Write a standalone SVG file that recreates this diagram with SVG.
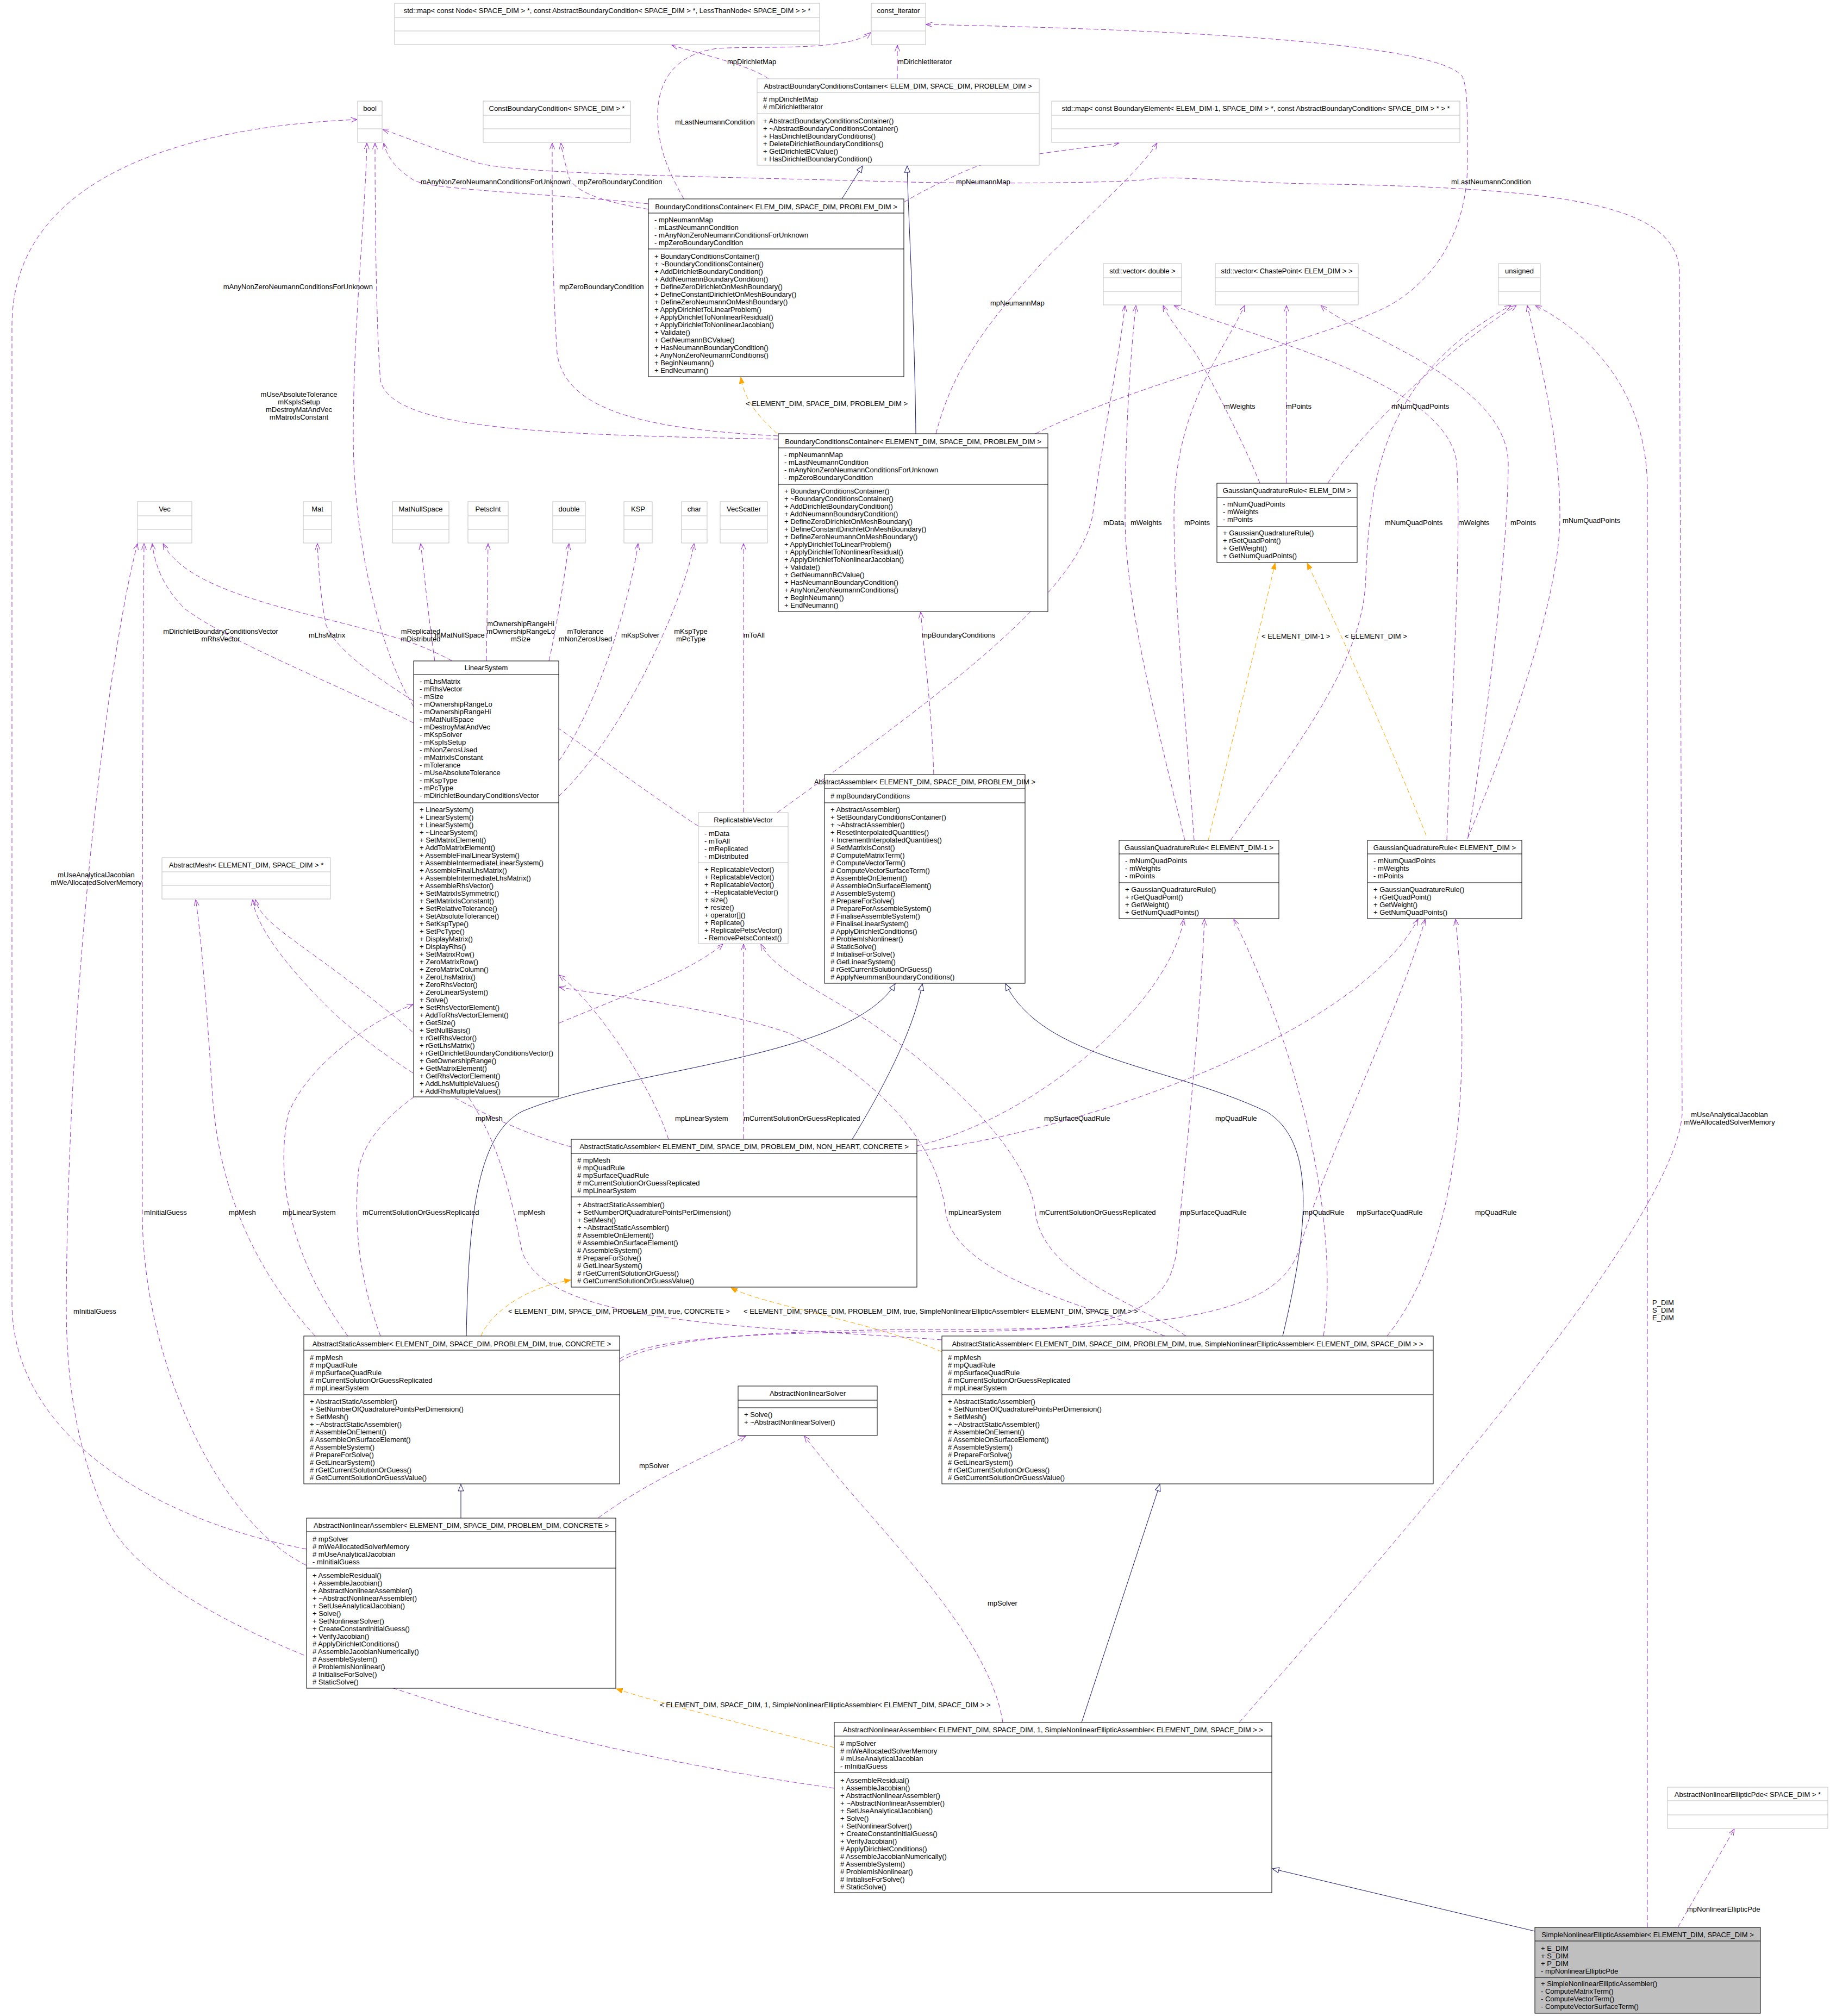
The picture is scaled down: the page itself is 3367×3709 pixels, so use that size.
<svg xmlns="http://www.w3.org/2000/svg" width="3367" height="3709" viewBox="0 0 3367 3709">
<defs>
<style>
.b{fill:#fff;stroke:#000;stroke-width:1}
.g{fill:#fff;stroke:#bfbfbf;stroke-width:1}
.s{fill:#bfbfbf;stroke:#000;stroke-width:1}
.lb{stroke:#000;stroke-width:1;fill:none}
.lg{stroke:#bfbfbf;stroke-width:1;fill:none}
text{font-family:"Liberation Sans",Arial,sans-serif;font-size:13px;fill:#000}
.h{text-anchor:middle}
.e{text-anchor:end}
.u{fill:none;stroke:#9a32cd;stroke-width:1;stroke-dasharray:9,5;marker-end:url(#mu)}
.i{fill:none;stroke:#191970;stroke-width:1;marker-end:url(#mi)}
.o{fill:none;stroke:#ffa500;stroke-width:1;stroke-dasharray:9,5;marker-end:url(#mo)}
</style>
<marker id="mu" viewBox="0 0 12 10" refX="11.5" refY="5" markerWidth="12" markerHeight="10" orient="auto" markerUnits="userSpaceOnUse"><path d="M0,0.5 L11.5,5 L0,9.5" fill="none" stroke="#9a32cd" stroke-width="1"/></marker>
<marker id="mi" viewBox="0 0 14 12" refX="13" refY="6" markerWidth="14" markerHeight="12" orient="auto" markerUnits="userSpaceOnUse"><path d="M1,1 L13,6 L1,11 Z" fill="#fff" stroke="#191970" stroke-width="1"/></marker>
<marker id="mo" viewBox="0 0 12 10" refX="11.5" refY="5" markerWidth="12" markerHeight="10" orient="auto" markerUnits="userSpaceOnUse"><path d="M0,0.5 L11.5,5 L0,9.5 Z" fill="#ffa500" stroke="#ffa500" stroke-width="1"/></marker>
</defs>
<rect width="3367" height="3709" fill="#fff"/>

<g id="connectors">
<path class="i" d="M1549,366 L1587,305"/>
<path class="i" d="M1685,798 C1683,600 1672,420 1669,305"/>
<path class="i" d="M848,2793 L848,2731"/>
<path class="i" d="M858,2458 C862,2250 875,2090 960,2045 C1150,1965 1560,1950 1647,1810"/>
<path class="i" d="M1568,2096 C1620,2010 1680,1900 1697,1810"/>
<path class="i" d="M2360,2458 C2410,2250 2420,2100 2330,2045 C2150,1960 1920,1950 1850,1810"/>
<path class="i" d="M1990,3169 L2134,2731"/>
<path class="i" d="M2824,3553 L2341,3438"/>

<path class="o" d="M1430,798 C1400,770 1370,740 1363,694"/>
<path class="o" d="M2223,1546 C2270,1350 2320,1150 2346,1036"/>
<path class="o" d="M2624,1537 C2550,1350 2460,1150 2405,1036"/>
<path class="o" d="M885,2458 C900,2420 960,2370 1050,2355"/>
<path class="o" d="M1733,2487 C1600,2430 1400,2400 1345,2369"/>
<path class="o" d="M1535,3215 C1400,3180 1200,3130 1134,3107"/>

<path class="u" d="M1414,145 C1380,120 1290,100 1236,83"/>
<path class="u" d="M1651,145 L1651,83"/>
<path class="u" d="M1258,366 C1245,340 1212,290 1210,220 C1208,150 1240,100 1320,89 C1400,84 1560,95 1602,60"/>
<path class="u" d="M1905,798 C2100,700 2450,620 2560,560 C2660,500 2700,400 2700,300 C2700,200 2700,160 2690,140 C2640,80 2200,55 1704,45"/>
<path class="u" d="M1663,372 C1700,350 1760,320 1800,305 C1900,280 2020,270 2059,263"/>
<path class="u" d="M1722,798 C1760,650 1850,560 1920,480 C2020,380 2100,310 2129,263"/>
<path class="u" d="M1193,375 C1000,355 800,350 762,332 C730,312 712,290 706,263"/>
<path class="u" d="M1193,385 C1100,370 1050,350 1045,320 C1040,300 1034,280 1032,263"/>
<path class="u" d="M1432,808 C1000,800 720,790 700,700 C692,600 690,400 690,263"/>
<path class="u" d="M1432,802 C1200,790 1040,760 1025,650 C1015,500 1016,350 1016,263"/>
<path class="u" d="M2280,3169 C2600,2800 3080,2250 3095,2050 L3090,500 C3085,380 2900,345 2400,338 C2250,334 2150,322 2110,330 C2080,336 1800,340 1600,333 C1300,325 950,320 880,300 C800,275 740,250 704,238"/>
<path class="u" d="M761,1300 C700,1200 650,1000 650,800 C650,600 672,400 675,263"/>
<path class="u" d="M564,2850 C300,2800 25,2650 22,2400 L22,600 C22,300 400,230 657,220"/>
<path class="u" d="M1718,1425 C1714,1300 1700,1200 1694,1126"/>
<path class="u" d="M761,1330 C600,1250 420,1180 340,1120 C300,1080 285,1040 280,1000"/>
<path class="u" d="M1285,1520 C1100,1400 900,1230 750,1180 C600,1130 350,1100 300,1000"/>
<path class="u" d="M761,1290 C700,1250 620,1200 600,1150 C590,1100 586,1050 584,1000"/>
<path class="u" d="M800,1216 C790,1150 780,1050 774,1000"/>
<path class="u" d="M895,1216 L898,1000"/>
<path class="u" d="M1010,1216 C1025,1150 1040,1050 1047,1000"/>
<path class="u" d="M1028,1400 C1100,1300 1160,1100 1174,1000"/>
<path class="u" d="M1028,1465 C1150,1350 1260,1100 1277,1000"/>
<path class="u" d="M1368,1495 L1368,1000"/>
<path class="u" d="M1430,1495 C1700,1300 1980,1100 2010,950 C2030,800 2060,650 2070,562"/>
<path class="u" d="M2180,1546 C2120,1300 2070,1100 2070,950 C2070,800 2080,650 2090,562"/>
<path class="u" d="M2197,1546 C2180,1300 2160,1100 2160,950 C2160,750 2250,650 2290,562"/>
<path class="u" d="M2264,1546 C2380,1380 2500,1230 2512,1080 C2520,900 2530,700 2780,562"/>
<path class="u" d="M2318,889 C2290,820 2240,720 2200,650 C2170,610 2150,585 2140,562"/>
<path class="u" d="M2367,889 L2367,562"/>
<path class="u" d="M2443,889 C2500,800 2650,650 2790,562"/>
<path class="u" d="M2662,1546 C2670,1300 2690,1000 2680,850 C2660,700 2300,620 2160,562"/>
<path class="u" d="M2701,1540 C2740,1300 2775,1000 2775,850 C2770,700 2500,620 2430,562"/>
<path class="u" d="M2700,1543 C2780,1350 2870,1100 2870,950 C2870,800 2830,650 2810,562"/>
<path class="u" d="M3031,3546 L3031,900 C3031,700 2900,600 2825,562"/>
<path class="u" d="M3087,3546 L3191,3365"/>
<path class="u" d="M1051,2110 C900,2070 700,1950 600,1850 C520,1770 470,1700 465,1655"/>
<path class="u" d="M1230,2096 C1200,2000 1100,1850 1029,1794"/>
<path class="u" d="M1368,2096 L1368,1737"/>
<path class="u" d="M1687,2108 C1900,2060 2150,1850 2178,1691"/>
<path class="u" d="M1687,2118 C2000,2080 2500,1900 2609,1691"/>
<path class="u" d="M580,2458 C480,2350 400,2200 390,2000 C380,1850 370,1720 360,1655"/>
<path class="u" d="M640,2458 C560,2350 500,2200 530,2050 C570,1950 700,1870 760,1848"/>
<path class="u" d="M700,2458 C660,2350 650,2250 660,2150 C700,1950 1200,1850 1330,1737"/>
<path class="u" d="M1140,2500 C1200,2460 1400,2450 1733,2450 C2050,2450 2150,2420 2165,2300 C2185,2100 2210,1850 2216,1691"/>
<path class="u" d="M1140,2505 C1210,2462 1420,2446 1733,2446 C2150,2446 2350,2420 2390,2300 C2450,2100 2580,1850 2622,1691"/>
<path class="u" d="M1733,2465 C1400,2440 1000,2440 960,2300 C930,2150 900,2000 700,1850 C550,1730 480,1700 470,1655"/>
<path class="u" d="M2143,2458 C2000,2400 1760,2350 1740,2231 C1720,2060 1550,1950 1450,1900 C1300,1850 1100,1830 1029,1816"/>
<path class="u" d="M2182,2458 C2100,2400 1920,2350 1905,2231 C1890,2100 1700,1950 1600,1880 C1500,1820 1420,1780 1400,1737"/>
<path class="u" d="M2435,2458 C2460,2300 2420,2000 2270,1691"/>
<path class="u" d="M2552,2458 C2680,2300 2710,2000 2678,1691"/>
<path class="u" d="M564,2880 C400,2800 262,2500 262,2233 C262,1800 262,1300 265,1000"/>
<path class="u" d="M1100,2793 C1200,2720 1320,2670 1372,2642"/>
<path class="u" d="M1845,3169 C1820,3000 1600,2800 1480,2642"/>
<path class="u" d="M1535,3290 C900,3200 300,3000 200,2800 C130,2650 122,2500 122,2400 C125,1800 200,1200 253,1000"/>

<text x="1338" y="118">mpDirichletMap</text>
<text x="1652" y="118">mDirichletIterator</text>
<text x="1242" y="229">mLastNeumannCondition</text>
<text x="774" y="339">mAnyNonZeroNeumannConditionsForUnknown</text>
<text x="1063" y="339">mpZeroBoundaryCondition</text>
<text x="1759" y="339">mpNeumannMap</text>
<text x="2670" y="339">mLastNeumannCondition</text>
<text class="e" x="686" y="532">mAnyNonZeroNeumannConditionsForUnknown</text>
<text x="1029" y="532">mpZeroBoundaryCondition</text>
<text class="h" x="550" y="730">mUseAbsoluteTolerance<tspan x="550" dy="14">mKspIsSetup</tspan><tspan x="550" dy="14">mDestroyMatAndVec</tspan><tspan x="550" dy="14">mMatrixIsConstant</tspan></text>
<text x="1822" y="562">mpNeumannMap</text>
<text x="1372" y="747">&lt; ELEMENT_DIM, SPACE_DIM, PROBLEM_DIM &gt;</text>
<text x="2252" y="752">mWeights</text>
<text x="2366" y="752">mPoints</text>
<text x="2560" y="752">mNumQuadPoints</text>
<text x="2030" y="966">mData</text>
<text x="2080" y="966">mWeights</text>
<text x="2179" y="966">mPoints</text>
<text x="2548" y="966">mNumQuadPoints</text>
<text x="2683" y="966">mWeights</text>
<text x="2779" y="966">mPoints</text>
<text x="2875" y="962">mNumQuadPoints</text>
<text x="2321" y="1175">&lt; ELEMENT_DIM-1 &gt;</text>
<text x="2474" y="1175">&lt; ELEMENT_DIM &gt;</text>
<text x="1696" y="1173">mpBoundaryConditions</text>
<text class="h" x="406" y="1166">mDirichletBoundaryConditionsVector<tspan x="406" dy="14">mRhsVector</tspan></text>
<text class="h" x="774" y="1166">mReplicated<tspan x="774" dy="14">mDistributed</tspan></text>
<text x="568" y="1173">mLhsMatrix</text>
<text x="800" y="1173">mMatNullSpace</text>
<text class="h" x="958" y="1152">mOwnershipRangeHi<tspan x="958" dy="14">mOwnershipRangeLo</tspan><tspan x="958" dy="14">mSize</tspan></text>
<text class="h" x="1077" y="1166">mTolerance<tspan x="1077" dy="14">mNonZerosUsed</tspan></text>
<text x="1143" y="1173">mKspSolver</text>
<text class="h" x="1271" y="1166">mKspType<tspan x="1271" dy="14">mPcType</tspan></text>
<text x="1368" y="1173">mToAll</text>
<text class="h" x="177" y="1614">mUseAnalyticalJacobian<tspan x="177" dy="14">mWeAllocatedSolverMemory</tspan></text>
<text class="h" x="3182" y="2055">mUseAnalyticalJacobian<tspan x="3182" dy="14">mWeAllocatedSolverMemory</tspan></text>
<text x="875" y="2062">mpMesh</text>
<text x="1242" y="2062">mpLinearSystem</text>
<text x="1368" y="2062">mCurrentSolutionOrGuessReplicated</text>
<text x="1921" y="2062">mpSurfaceQuadRule</text>
<text x="2236" y="2062">mpQuadRule</text>
<text x="265" y="2235">mInitialGuess</text>
<text x="421" y="2235">mpMesh</text>
<text x="520" y="2235">mpLinearSystem</text>
<text x="667" y="2235">mCurrentSolutionOrGuessReplicated</text>
<text x="953" y="2235">mpMesh</text>
<text x="1745" y="2235">mpLinearSystem</text>
<text x="1912" y="2235">mCurrentSolutionOrGuessReplicated</text>
<text x="2172" y="2235">mpSurfaceQuadRule</text>
<text x="2397" y="2235">mpQuadRule</text>
<text x="2496" y="2235">mpSurfaceQuadRule</text>
<text x="2714" y="2235">mpQuadRule</text>
<text x="3040" y="2401">P_DIM<tspan x="3040" dy="14">S_DIM</tspan><tspan x="3040" dy="14">E_DIM</tspan></text>
<text x="935" y="2417">&lt; ELEMENT_DIM, SPACE_DIM, PROBLEM_DIM, true, CONCRETE &gt;</text>
<text x="1368" y="2417">&lt; ELEMENT_DIM, SPACE_DIM, PROBLEM_DIM, true, SimpleNonlinearEllipticAssembler&lt; ELEMENT_DIM, SPACE_DIM &gt; &gt;</text>
<text x="135" y="2417">mInitialGuess</text>
<text x="1176" y="2701">mpSolver</text>
<text x="1817" y="2954">mpSolver</text>
<text x="1214" y="3141">&lt; ELEMENT_DIM, SPACE_DIM, 1, SimpleNonlinearEllipticAssembler&lt; ELEMENT_DIM, SPACE_DIM &gt; &gt;</text>
<text x="3104" y="3517">mpNonlinearEllipticPde</text>
</g>

<g id="n_map_node"><rect class="g" x="726" y="6" width="782" height="76"/><path class="lg" d="M726,32H1508M726,57H1508"/><text class="h" x="1117" y="24">std::map&lt; const Node&lt; SPACE_DIM &gt; *, const AbstractBoundaryCondition&lt; SPACE_DIM &gt; *, LessThanNode&lt; SPACE_DIM &gt; &gt; *</text></g>
<g id="n_const_iterator"><rect class="g" x="1603" y="6" width="100" height="76"/><path class="lg" d="M1603,32H1703M1603,57H1703"/><text class="h" x="1653" y="24">const_iterator</text></g>
<g id="n_abcc"><rect class="g" x="1393" y="145" width="519" height="159"/><path class="lg" d="M1393,170H1912M1393,209H1912"/><text class="h" x="1652" y="163">AbstractBoundaryConditionsContainer&lt; ELEM_DIM, SPACE_DIM, PROBLEM_DIM &gt;</text>
<text x="1404" y="187"># mpDirichletMap<tspan x="1404" dy="14"># mDirichletIterator</tspan></text>
<text x="1404" y="227">+ AbstractBoundaryConditionsContainer()<tspan x="1404" dy="14">+ ~AbstractBoundaryConditionsContainer()</tspan><tspan x="1404" dy="14">+ HasDirichletBoundaryConditions()</tspan><tspan x="1404" dy="14">+ DeleteDirichletBoundaryConditions()</tspan><tspan x="1404" dy="14">+ GetDirichletBCValue()</tspan><tspan x="1404" dy="14">+ HasDirichletBoundaryCondition()</tspan></text></g>
<g id="n_bool"><rect class="g" x="658" y="186" width="45" height="76"/><path class="lg" d="M658,212H703M658,237H703"/><text class="h" x="680.5" y="204">bool</text></g>
<g id="n_constbc"><rect class="g" x="889" y="186" width="271" height="76"/><path class="lg" d="M889,212H1160M889,237H1160"/><text class="h" x="1024.5" y="204">ConstBoundaryCondition&lt; SPACE_DIM &gt; *</text></g>
<g id="n_map_be"><rect class="g" x="1935" y="186" width="751" height="76"/><path class="lg" d="M1935,212H2686M1935,237H2686"/><text class="h" x="2310.5" y="204">std::map&lt; const BoundaryElement&lt; ELEM_DIM-1, SPACE_DIM &gt; *, const AbstractBoundaryCondition&lt; SPACE_DIM &gt; * &gt; *</text></g>

<g id="n_bcc_elem"><rect class="b" x="1193" y="366" width="470" height="327"/><path class="lb" d="M1193,392H1663M1193,458H1663"/><text class="h" x="1428" y="385">BoundaryConditionsContainer&lt; ELEM_DIM, SPACE_DIM, PROBLEM_DIM &gt;</text>
<text x="1204" y="409">- mpNeumannMap<tspan x="1204" dy="14">- mLastNeumannCondition</tspan><tspan x="1204" dy="14">- mAnyNonZeroNeumannConditionsForUnknown</tspan><tspan x="1204" dy="14">- mpZeroBoundaryCondition</tspan></text>
<text x="1204" y="476">+ BoundaryConditionsContainer()<tspan x="1204" dy="14">+ ~BoundaryConditionsContainer()</tspan><tspan x="1204" dy="14">+ AddDirichletBoundaryCondition()</tspan><tspan x="1204" dy="14">+ AddNeumannBoundaryCondition()</tspan><tspan x="1204" dy="14">+ DefineZeroDirichletOnMeshBoundary()</tspan><tspan x="1204" dy="14">+ DefineConstantDirichletOnMeshBoundary()</tspan><tspan x="1204" dy="14">+ DefineZeroNeumannOnMeshBoundary()</tspan><tspan x="1204" dy="14">+ ApplyDirichletToLinearProblem()</tspan><tspan x="1204" dy="14">+ ApplyDirichletToNonlinearResidual()</tspan><tspan x="1204" dy="14">+ ApplyDirichletToNonlinearJacobian()</tspan><tspan x="1204" dy="14">+ Validate()</tspan><tspan x="1204" dy="14">+ GetNeumannBCValue()</tspan><tspan x="1204" dy="14">+ HasNeumannBoundaryCondition()</tspan><tspan x="1204" dy="14">+ AnyNonZeroNeumannConditions()</tspan><tspan x="1204" dy="14">+ BeginNeumann()</tspan><tspan x="1204" dy="14">+ EndNeumann()</tspan></text></g>

<g id="n_bcc_element"><rect class="b" x="1432" y="798" width="496" height="327"/><path class="lb" d="M1432,824H1928M1432,891H1928"/><text class="h" x="1680" y="817">BoundaryConditionsContainer&lt; ELEMENT_DIM, SPACE_DIM, PROBLEM_DIM &gt;</text>
<text x="1443" y="841">- mpNeumannMap<tspan x="1443" dy="14">- mLastNeumannCondition</tspan><tspan x="1443" dy="14">- mAnyNonZeroNeumannConditionsForUnknown</tspan><tspan x="1443" dy="14">- mpZeroBoundaryCondition</tspan></text>
<text x="1443" y="908">+ BoundaryConditionsContainer()<tspan x="1443" dy="14">+ ~BoundaryConditionsContainer()</tspan><tspan x="1443" dy="14">+ AddDirichletBoundaryCondition()</tspan><tspan x="1443" dy="14">+ AddNeumannBoundaryCondition()</tspan><tspan x="1443" dy="14">+ DefineZeroDirichletOnMeshBoundary()</tspan><tspan x="1443" dy="14">+ DefineConstantDirichletOnMeshBoundary()</tspan><tspan x="1443" dy="14">+ DefineZeroNeumannOnMeshBoundary()</tspan><tspan x="1443" dy="14">+ ApplyDirichletToLinearProblem()</tspan><tspan x="1443" dy="14">+ ApplyDirichletToNonlinearResidual()</tspan><tspan x="1443" dy="14">+ ApplyDirichletToNonlinearJacobian()</tspan><tspan x="1443" dy="14">+ Validate()</tspan><tspan x="1443" dy="14">+ GetNeumannBCValue()</tspan><tspan x="1443" dy="14">+ HasNeumannBoundaryCondition()</tspan><tspan x="1443" dy="14">+ AnyNonZeroNeumannConditions()</tspan><tspan x="1443" dy="14">+ BeginNeumann()</tspan><tspan x="1443" dy="14">+ EndNeumann()</tspan></text></g>

<g id="n_vec_double"><rect class="g" x="2030" y="485" width="144" height="76"/><path class="lg" d="M2030,511H2174M2030,536H2174"/><text class="h" x="2102" y="503">std::vector&lt; double &gt;</text></g>
<g id="n_vec_chaste"><rect class="g" x="2236" y="485" width="263" height="76"/><path class="lg" d="M2236,511H2499M2236,536H2499"/><text class="h" x="2367.5" y="503">std::vector&lt; ChastePoint&lt; ELEM_DIM &gt; &gt;</text></g>
<g id="n_unsigned"><rect class="g" x="2757" y="485" width="77" height="76"/><path class="lg" d="M2757,511H2834M2757,536H2834"/><text class="h" x="2795.5" y="503">unsigned</text></g>

<g id="n_gqr_elem"><rect class="b" x="2239" y="889" width="258" height="146"/><path class="lb" d="M2239,915H2497M2239,969H2497"/><text class="h" x="2368" y="907">GaussianQuadratureRule&lt; ELEM_DIM &gt;</text>
<text x="2250" y="932">- mNumQuadPoints<tspan x="2250" dy="14">- mWeights</tspan><tspan x="2250" dy="14">- mPoints</tspan></text>
<text x="2250" y="985">+ GaussianQuadratureRule()<tspan x="2250" dy="14">+ rGetQuadPoint()</tspan><tspan x="2250" dy="14">+ GetWeight()</tspan><tspan x="2250" dy="14">+ GetNumQuadPoints()</tspan></text></g>

<g id="n_vec"><rect class="g" x="253" y="923" width="100" height="76"/><path class="lg" d="M253,949H353M253,974H353"/><text class="h" x="303" y="941">Vec</text></g>
<g id="n_mat"><rect class="g" x="558" y="923" width="52" height="76"/><path class="lg" d="M558,949H610M558,974H610"/><text class="h" x="584" y="941">Mat</text></g>
<g id="n_matnullspace"><rect class="g" x="722" y="923" width="104" height="76"/><path class="lg" d="M722,949H826M722,974H826"/><text class="h" x="774" y="941">MatNullSpace</text></g>
<g id="n_petscint"><rect class="g" x="861" y="923" width="74" height="76"/><path class="lg" d="M861,949H935M861,974H935"/><text class="h" x="898" y="941">PetscInt</text></g>
<g id="n_double"><rect class="g" x="1017" y="923" width="60" height="76"/><path class="lg" d="M1017,949H1077M1017,974H1077"/><text class="h" x="1047" y="941">double</text></g>
<g id="n_ksp"><rect class="g" x="1148" y="923" width="52" height="76"/><path class="lg" d="M1148,949H1200M1148,974H1200"/><text class="h" x="1174" y="941">KSP</text></g>
<g id="n_char"><rect class="g" x="1254" y="923" width="47" height="76"/><path class="lg" d="M1254,949H1301M1254,974H1301"/><text class="h" x="1277.5" y="941">char</text></g>
<g id="n_vecscatter"><rect class="g" x="1325" y="923" width="87" height="76"/><path class="lg" d="M1325,949H1412M1325,974H1412"/><text class="h" x="1368.5" y="941">VecScatter</text></g>

<g id="n_linearsystem"><rect class="b" x="761" y="1216" width="267" height="802"/><path class="lb" d="M761,1241H1028M761,1477H1028"/><text class="h" x="894.5" y="1233">LinearSystem</text>
<text x="772" y="1258">- mLhsMatrix<tspan x="772" dy="14">- mRhsVector</tspan><tspan x="772" dy="14">- mSize</tspan><tspan x="772" dy="14">- mOwnershipRangeLo</tspan><tspan x="772" dy="14">- mOwnershipRangeHi</tspan><tspan x="772" dy="14">- mMatNullSpace</tspan><tspan x="772" dy="14">- mDestroyMatAndVec</tspan><tspan x="772" dy="14">- mKspSolver</tspan><tspan x="772" dy="14">- mKspIsSetup</tspan><tspan x="772" dy="14">- mNonZerosUsed</tspan><tspan x="772" dy="14">- mMatrixIsConstant</tspan><tspan x="772" dy="14">- mTolerance</tspan><tspan x="772" dy="14">- mUseAbsoluteTolerance</tspan><tspan x="772" dy="14">- mKspType</tspan><tspan x="772" dy="14">- mPcType</tspan><tspan x="772" dy="14">- mDirichletBoundaryConditionsVector</tspan></text>
<text x="772" y="1494">+ LinearSystem()<tspan x="772" dy="14">+ LinearSystem()</tspan><tspan x="772" dy="14">+ LinearSystem()</tspan><tspan x="772" dy="14">+ ~LinearSystem()</tspan><tspan x="772" dy="14">+ SetMatrixElement()</tspan><tspan x="772" dy="14">+ AddToMatrixElement()</tspan><tspan x="772" dy="14">+ AssembleFinalLinearSystem()</tspan><tspan x="772" dy="14">+ AssembleIntermediateLinearSystem()</tspan><tspan x="772" dy="14">+ AssembleFinalLhsMatrix()</tspan><tspan x="772" dy="14">+ AssembleIntermediateLhsMatrix()</tspan><tspan x="772" dy="14">+ AssembleRhsVector()</tspan><tspan x="772" dy="14">+ SetMatrixIsSymmetric()</tspan><tspan x="772" dy="14">+ SetMatrixIsConstant()</tspan><tspan x="772" dy="14">+ SetRelativeTolerance()</tspan><tspan x="772" dy="14">+ SetAbsoluteTolerance()</tspan><tspan x="772" dy="14">+ SetKspType()</tspan><tspan x="772" dy="14">+ SetPcType()</tspan><tspan x="772" dy="14">+ DisplayMatrix()</tspan><tspan x="772" dy="14">+ DisplayRhs()</tspan><tspan x="772" dy="14">+ SetMatrixRow()</tspan><tspan x="772" dy="14">+ ZeroMatrixRow()</tspan><tspan x="772" dy="14">+ ZeroMatrixColumn()</tspan><tspan x="772" dy="14">+ ZeroLhsMatrix()</tspan><tspan x="772" dy="14">+ ZeroRhsVector()</tspan><tspan x="772" dy="14">+ ZeroLinearSystem()</tspan><tspan x="772" dy="14">+ Solve()</tspan><tspan x="772" dy="14">+ SetRhsVectorElement()</tspan><tspan x="772" dy="14">+ AddToRhsVectorElement()</tspan><tspan x="772" dy="14">+ GetSize()</tspan><tspan x="772" dy="14">+ SetNullBasis()</tspan><tspan x="772" dy="14">+ rGetRhsVector()</tspan><tspan x="772" dy="14">+ rGetLhsMatrix()</tspan><tspan x="772" dy="14">+ rGetDirichletBoundaryConditionsVector()</tspan><tspan x="772" dy="14">+ GetOwnershipRange()</tspan><tspan x="772" dy="14">+ GetMatrixElement()</tspan><tspan x="772" dy="14">+ GetRhsVectorElement()</tspan><tspan x="772" dy="14">+ AddLhsMultipleValues()</tspan><tspan x="772" dy="14">+ AddRhsMultipleValues()</tspan></text></g>

<g id="n_abstractassembler"><rect class="b" x="1517" y="1425" width="369" height="384"/><path class="lb" d="M1517,1451H1886M1517,1477H1886"/><text class="h" x="1701.5" y="1443">AbstractAssembler&lt; ELEMENT_DIM, SPACE_DIM, PROBLEM_DIM &gt;</text>
<text x="1528" y="1469"># mpBoundaryConditions</text>
<text x="1528" y="1494">+ AbstractAssembler()<tspan x="1528" dy="14">+ SetBoundaryConditionsContainer()</tspan><tspan x="1528" dy="14">+ ~AbstractAssembler()</tspan><tspan x="1528" dy="14">+ ResetInterpolatedQuantities()</tspan><tspan x="1528" dy="14">+ IncrementInterpolatedQuantities()</tspan><tspan x="1528" dy="14"># SetMatrixIsConst()</tspan><tspan x="1528" dy="14"># ComputeMatrixTerm()</tspan><tspan x="1528" dy="14"># ComputeVectorTerm()</tspan><tspan x="1528" dy="14"># ComputeVectorSurfaceTerm()</tspan><tspan x="1528" dy="14"># AssembleOnElement()</tspan><tspan x="1528" dy="14"># AssembleOnSurfaceElement()</tspan><tspan x="1528" dy="14"># AssembleSystem()</tspan><tspan x="1528" dy="14"># PrepareForSolve()</tspan><tspan x="1528" dy="14"># PrepareForAssembleSystem()</tspan><tspan x="1528" dy="14"># FinaliseAssembleSystem()</tspan><tspan x="1528" dy="14"># FinaliseLinearSystem()</tspan><tspan x="1528" dy="14"># ApplyDirichletConditions()</tspan><tspan x="1528" dy="14"># ProblemIsNonlinear()</tspan><tspan x="1528" dy="14"># StaticSolve()</tspan><tspan x="1528" dy="14"># InitialiseForSolve()</tspan><tspan x="1528" dy="14"># GetLinearSystem()</tspan><tspan x="1528" dy="14"># rGetCurrentSolutionOrGuess()</tspan><tspan x="1528" dy="14"># ApplyNeummanBoundaryConditions()</tspan></text></g>

<g id="n_replicatablevector"><rect class="g" x="1285" y="1495" width="165" height="241"/><path class="lg" d="M1285,1521H1450M1285,1587H1450"/><text class="h" x="1367.5" y="1513">ReplicatableVector</text>
<text x="1296" y="1538">- mData<tspan x="1296" dy="14">- mToAll</tspan><tspan x="1296" dy="14">- mReplicated</tspan><tspan x="1296" dy="14">- mDistributed</tspan></text>
<text x="1296" y="1604">+ ReplicatableVector()<tspan x="1296" dy="14">+ ReplicatableVector()</tspan><tspan x="1296" dy="14">+ ReplicatableVector()</tspan><tspan x="1296" dy="14">+ ~ReplicatableVector()</tspan><tspan x="1296" dy="14">+ size()</tspan><tspan x="1296" dy="14">+ resize()</tspan><tspan x="1296" dy="14">+ operator[]()</tspan><tspan x="1296" dy="14">+ Replicate()</tspan><tspan x="1296" dy="14">+ ReplicatePetscVector()</tspan><tspan x="1296" dy="14">- RemovePetscContext()</tspan></text></g>

<g id="n_abstractmesh"><rect class="g" x="298" y="1578" width="310" height="76"/><path class="lg" d="M298,1604H608M298,1629H608"/><text class="h" x="453" y="1596">AbstractMesh&lt; ELEMENT_DIM, SPACE_DIM &gt; *</text></g>

<g id="n_gqr_m1"><rect class="b" x="2059" y="1546" width="294" height="144"/><path class="lb" d="M2059,1571H2353M2059,1624H2353"/><text class="h" x="2206" y="1564">GaussianQuadratureRule&lt; ELEMENT_DIM-1 &gt;</text>
<text x="2070" y="1588">- mNumQuadPoints<tspan x="2070" dy="14">- mWeights</tspan><tspan x="2070" dy="14">- mPoints</tspan></text>
<text x="2070" y="1641">+ GaussianQuadratureRule()<tspan x="2070" dy="14">+ rGetQuadPoint()</tspan><tspan x="2070" dy="14">+ GetWeight()</tspan><tspan x="2070" dy="14">+ GetNumQuadPoints()</tspan></text></g>
<g id="n_gqr_element"><rect class="b" x="2516" y="1546" width="284" height="144"/><path class="lb" d="M2516,1571H2800M2516,1624H2800"/><text class="h" x="2658" y="1564">GaussianQuadratureRule&lt; ELEMENT_DIM &gt;</text>
<text x="2527" y="1588">- mNumQuadPoints<tspan x="2527" dy="14">- mWeights</tspan><tspan x="2527" dy="14">- mPoints</tspan></text>
<text x="2527" y="1641">+ GaussianQuadratureRule()<tspan x="2527" dy="14">+ rGetQuadPoint()</tspan><tspan x="2527" dy="14">+ GetWeight()</tspan><tspan x="2527" dy="14">+ GetNumQuadPoints()</tspan></text></g>

<g id="n_asa_nh"><rect class="b" x="1051" y="2096" width="636" height="272"/><path class="lb" d="M1051,2122H1687M1051,2202H1687"/><text class="h" x="1369" y="2114">AbstractStaticAssembler&lt; ELEMENT_DIM, SPACE_DIM, PROBLEM_DIM, NON_HEART, CONCRETE &gt;</text>
<text x="1062" y="2139"># mpMesh<tspan x="1062" dy="14"># mpQuadRule</tspan><tspan x="1062" dy="14"># mpSurfaceQuadRule</tspan><tspan x="1062" dy="14"># mCurrentSolutionOrGuessReplicated</tspan><tspan x="1062" dy="14"># mpLinearSystem</tspan></text>
<text x="1062" y="2221">+ AbstractStaticAssembler()<tspan x="1062" dy="14">+ SetNumberOfQuadraturePointsPerDimension()</tspan><tspan x="1062" dy="14">+ SetMesh()</tspan><tspan x="1062" dy="14">+ ~AbstractStaticAssembler()</tspan><tspan x="1062" dy="14"># AssembleOnElement()</tspan><tspan x="1062" dy="14"># AssembleOnSurfaceElement()</tspan><tspan x="1062" dy="14"># AssembleSystem()</tspan><tspan x="1062" dy="14"># PrepareForSolve()</tspan><tspan x="1062" dy="14"># GetLinearSystem()</tspan><tspan x="1062" dy="14"># rGetCurrentSolutionOrGuess()</tspan><tspan x="1062" dy="14"># GetCurrentSolutionOrGuessValue()</tspan></text></g>

<g id="n_asa_tc"><rect class="b" x="559" y="2458" width="581" height="272"/><path class="lb" d="M559,2484H1140M559,2566H1140"/><text class="h" x="849.5" y="2477">AbstractStaticAssembler&lt; ELEMENT_DIM, SPACE_DIM, PROBLEM_DIM, true, CONCRETE &gt;</text>
<text x="570" y="2502"># mpMesh<tspan x="570" dy="14"># mpQuadRule</tspan><tspan x="570" dy="14"># mpSurfaceQuadRule</tspan><tspan x="570" dy="14"># mCurrentSolutionOrGuessReplicated</tspan><tspan x="570" dy="14"># mpLinearSystem</tspan></text>
<text x="570" y="2583">+ AbstractStaticAssembler()<tspan x="570" dy="14">+ SetNumberOfQuadraturePointsPerDimension()</tspan><tspan x="570" dy="14">+ SetMesh()</tspan><tspan x="570" dy="14">+ ~AbstractStaticAssembler()</tspan><tspan x="570" dy="14"># AssembleOnElement()</tspan><tspan x="570" dy="14"># AssembleOnSurfaceElement()</tspan><tspan x="570" dy="14"># AssembleSystem()</tspan><tspan x="570" dy="14"># PrepareForSolve()</tspan><tspan x="570" dy="14"># GetLinearSystem()</tspan><tspan x="570" dy="14"># rGetCurrentSolutionOrGuess()</tspan><tspan x="570" dy="14"># GetCurrentSolutionOrGuessValue()</tspan></text></g>

<g id="n_ans"><rect class="b" x="1358" y="2550" width="256" height="91"/><path class="lb" d="M1358,2576H1614M1358,2590H1614"/><text class="h" x="1486" y="2568">AbstractNonlinearSolver</text>
<text x="1369" y="2607">+ Solve()<tspan x="1369" dy="14">+ ~AbstractNonlinearSolver()</tspan></text></g>

<g id="n_asa_ts"><rect class="b" x="1733" y="2458" width="904" height="272"/><path class="lb" d="M1733,2484H2637M1733,2566H2637"/><text class="h" x="2185" y="2477">AbstractStaticAssembler&lt; ELEMENT_DIM, SPACE_DIM, PROBLEM_DIM, true, SimpleNonlinearEllipticAssembler&lt; ELEMENT_DIM, SPACE_DIM &gt; &gt;</text>
<text x="1744" y="2502"># mpMesh<tspan x="1744" dy="14"># mpQuadRule</tspan><tspan x="1744" dy="14"># mpSurfaceQuadRule</tspan><tspan x="1744" dy="14"># mCurrentSolutionOrGuessReplicated</tspan><tspan x="1744" dy="14"># mpLinearSystem</tspan></text>
<text x="1744" y="2583">+ AbstractStaticAssembler()<tspan x="1744" dy="14">+ SetNumberOfQuadraturePointsPerDimension()</tspan><tspan x="1744" dy="14">+ SetMesh()</tspan><tspan x="1744" dy="14">+ ~AbstractStaticAssembler()</tspan><tspan x="1744" dy="14"># AssembleOnElement()</tspan><tspan x="1744" dy="14"># AssembleOnSurfaceElement()</tspan><tspan x="1744" dy="14"># AssembleSystem()</tspan><tspan x="1744" dy="14"># PrepareForSolve()</tspan><tspan x="1744" dy="14"># GetLinearSystem()</tspan><tspan x="1744" dy="14"># rGetCurrentSolutionOrGuess()</tspan><tspan x="1744" dy="14"># GetCurrentSolutionOrGuessValue()</tspan></text></g>

<g id="n_ana_c"><rect class="b" x="564" y="2793" width="569" height="313"/><path class="lb" d="M564,2818H1133M564,2885H1133"/><text class="h" x="848.5" y="2811">AbstractNonlinearAssembler&lt; ELEMENT_DIM, SPACE_DIM, PROBLEM_DIM, CONCRETE &gt;</text>
<text x="575" y="2836"># mpSolver<tspan x="575" dy="14"># mWeAllocatedSolverMemory</tspan><tspan x="575" dy="14"># mUseAnalyticalJacobian</tspan><tspan x="575" dy="14">- mInitialGuess</tspan></text>
<text x="575" y="2903">+ AssembleResidual()<tspan x="575" dy="14">+ AssembleJacobian()</tspan><tspan x="575" dy="14">+ AbstractNonlinearAssembler()</tspan><tspan x="575" dy="14">+ ~AbstractNonlinearAssembler()</tspan><tspan x="575" dy="14">+ SetUseAnalyticalJacobian()</tspan><tspan x="575" dy="14">+ Solve()</tspan><tspan x="575" dy="14">+ SetNonlinearSolver()</tspan><tspan x="575" dy="14">+ CreateConstantInitialGuess()</tspan><tspan x="575" dy="14">+ VerifyJacobian()</tspan><tspan x="575" dy="14"># ApplyDirichletConditions()</tspan><tspan x="575" dy="14"># AssembleJacobianNumerically()</tspan><tspan x="575" dy="14"># AssembleSystem()</tspan><tspan x="575" dy="14"># ProblemIsNonlinear()</tspan><tspan x="575" dy="14"># InitialiseForSolve()</tspan><tspan x="575" dy="14"># StaticSolve()</tspan></text></g>

<g id="n_ana_1"><rect class="b" x="1535" y="3169" width="805" height="313"/><path class="lb" d="M1535,3194H2340M1535,3261H2340"/><text class="h" x="1937.5" y="3187">AbstractNonlinearAssembler&lt; ELEMENT_DIM, SPACE_DIM, 1, SimpleNonlinearEllipticAssembler&lt; ELEMENT_DIM, SPACE_DIM &gt; &gt;</text>
<text x="1546" y="3212"># mpSolver<tspan x="1546" dy="14"># mWeAllocatedSolverMemory</tspan><tspan x="1546" dy="14"># mUseAnalyticalJacobian</tspan><tspan x="1546" dy="14">- mInitialGuess</tspan></text>
<text x="1546" y="3280">+ AssembleResidual()<tspan x="1546" dy="14">+ AssembleJacobian()</tspan><tspan x="1546" dy="14">+ AbstractNonlinearAssembler()</tspan><tspan x="1546" dy="14">+ ~AbstractNonlinearAssembler()</tspan><tspan x="1546" dy="14">+ SetUseAnalyticalJacobian()</tspan><tspan x="1546" dy="14">+ Solve()</tspan><tspan x="1546" dy="14">+ SetNonlinearSolver()</tspan><tspan x="1546" dy="14">+ CreateConstantInitialGuess()</tspan><tspan x="1546" dy="14">+ VerifyJacobian()</tspan><tspan x="1546" dy="14"># ApplyDirichletConditions()</tspan><tspan x="1546" dy="14"># AssembleJacobianNumerically()</tspan><tspan x="1546" dy="14"># AssembleSystem()</tspan><tspan x="1546" dy="14"># ProblemIsNonlinear()</tspan><tspan x="1546" dy="14"># InitialiseForSolve()</tspan><tspan x="1546" dy="14"># StaticSolve()</tspan></text></g>

<g id="n_anepde"><rect class="g" x="3068" y="3288" width="295" height="76"/><path class="lg" d="M3068,3313H3363M3068,3339H3363"/><text class="h" x="3215.5" y="3306">AbstractNonlinearEllipticPde&lt; SPACE_DIM &gt; *</text></g>

<g id="n_snea"><rect class="s" x="2824" y="3546" width="415" height="158"/><path class="lb" d="M2824,3571H3239M2824,3638H3239"/><text class="h" x="3031.5" y="3564">SimpleNonlinearEllipticAssembler&lt; ELEMENT_DIM, SPACE_DIM &gt;</text>
<text x="2835" y="3589">+ E_DIM<tspan x="2835" dy="14">+ S_DIM</tspan><tspan x="2835" dy="14">+ P_DIM</tspan><tspan x="2835" dy="14">- mpNonlinearEllipticPde</tspan></text>
<text x="2835" y="3654">+ SimpleNonlinearEllipticAssembler()<tspan x="2835" dy="14">- ComputeMatrixTerm()</tspan><tspan x="2835" dy="14">- ComputeVectorTerm()</tspan><tspan x="2835" dy="14">- ComputeVectorSurfaceTerm()</tspan></text></g>
</svg>
